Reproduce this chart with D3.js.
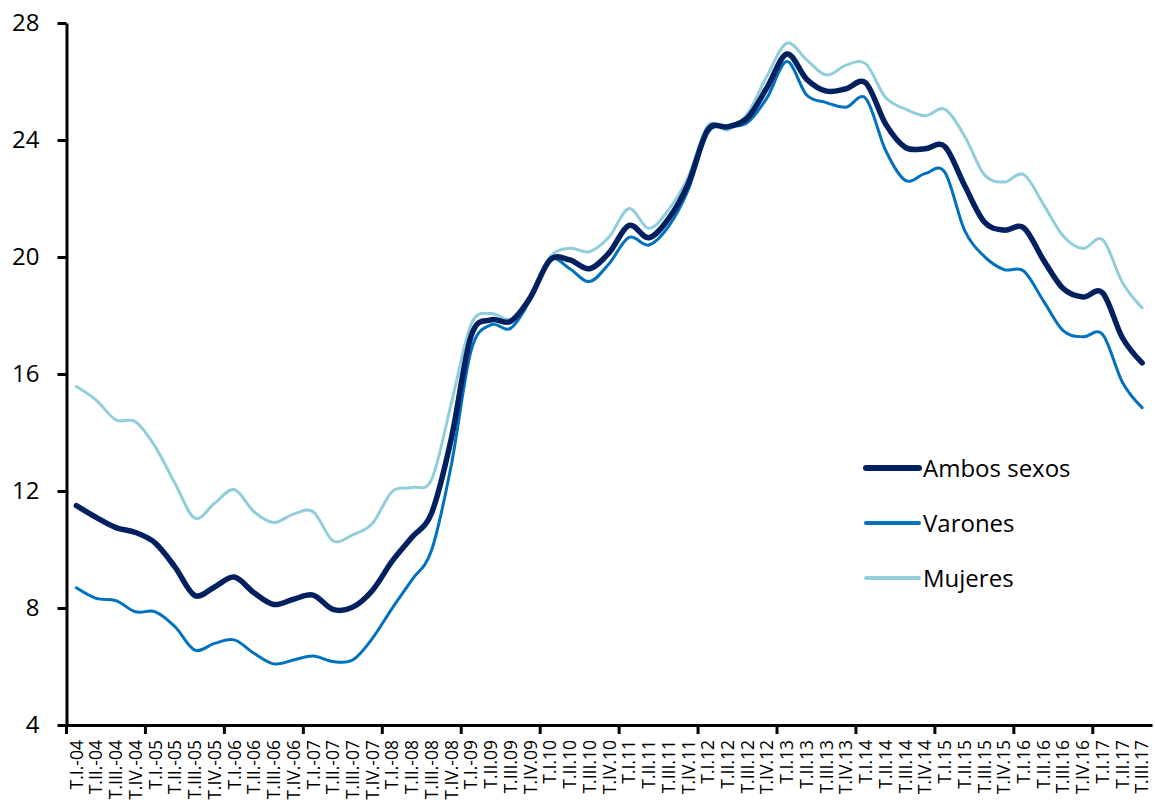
<!DOCTYPE html>
<html>
<head>
<meta charset="utf-8">
<script src="https://cdn.jsdelivr.net/npm/d3@7"></script>
<style>
  body { margin: 0; background: #fff; }
  svg { display: block; }
  text { font-family: "Open Sans", sans-serif; fill: #000; }
</style>
</head>
<body>
<svg id="chart" width="1155" height="803"></svg>
<script>
// Quarterly unemployment rate (%), T.I 2004 – T.III 2017
const categories = [
  "T.I.-04","T.II.-04","T.III.-04","T.IV.-04",
  "T.I.-05","T.II.-05","T.III.-05","T.IV.-05",
  "T.I.-06","T.II.-06","T.III.-06","T.IV.-06",
  "T.I.-07","T.II.-07","T.III.-07","T.IV.-07",
  "T.I.-08","T.II.-08","T.III.-08","T.IV.-08",
  "T.I.-09","T.II.09","T.III.09","T.IV.09",
  "T.I.10","T.II.10","T.III.10","T.IV.10",
  "T.I.11","T.II.11","T.III.11","T.IV.11",
  "T.I.12","T.II.12","T.III.12","T.IV.12",
  "T.I.13","T.II.13","T.III.13","T.IV.13",
  "T.I.14","T.II.14","T.III.14","T.IV.14",
  "T.I.15","T.II.15","T.III.15","T.IV.15",
  "T.I.16","T.II.16","T.III.16","T.IV.16",
  "T.I.17","T.II.17","T.III.17"
];

const ambosSexos = [
  11.5, 11.1, 10.75, 10.58,
  10.22, 9.4, 8.43, 8.72,
  9.06, 8.52, 8.12, 8.3,
  8.44, 7.95, 8.03, 8.6,
  9.6, 10.42, 11.25, 13.8,
  17.3, 17.85, 17.8, 18.62,
  19.9, 19.9, 19.6, 20.15,
  21.08, 20.66, 21.3, 22.5,
  24.35, 24.45, 24.75, 25.8,
  26.94, 26.08, 25.67, 25.75,
  25.95, 24.55, 23.75, 23.7,
  23.78, 22.45, 21.2, 20.92,
  21.0, 19.9, 18.92, 18.63,
  18.77, 17.24, 16.38
];

const varones = [
  8.69, 8.33, 8.25, 7.87,
  7.87, 7.36, 6.56, 6.79,
  6.91, 6.45, 6.09, 6.22,
  6.36, 6.17, 6.22, 6.96,
  7.99, 8.96, 9.98, 12.9,
  16.8, 17.68, 17.56, 18.53,
  19.9, 19.6, 19.16, 19.78,
  20.67, 20.41, 21.04, 22.29,
  24.25, 24.45, 24.6, 25.45,
  26.68, 25.54, 25.28, 25.12,
  25.42, 23.65, 22.62, 22.85,
  22.9, 20.92, 20.02, 19.57,
  19.52, 18.5, 17.48, 17.27,
  17.35, 15.72, 14.85
];

const mujeres = [
  15.57, 15.11, 14.43, 14.37,
  13.51, 12.26, 11.07, 11.58,
  12.05, 11.29, 10.92, 11.21,
  11.29, 10.3, 10.5, 10.89,
  11.98, 12.12, 12.4, 15.0,
  17.7, 18.07, 17.88, 18.64,
  20.0, 20.3, 20.18, 20.69,
  21.66, 20.98, 21.61, 22.74,
  24.5, 24.35, 24.9, 26.2,
  27.31, 26.74, 26.22, 26.56,
  26.6, 25.45, 25.06, 24.83,
  25.05, 24.14, 22.82, 22.56,
  22.82, 21.8, 20.72, 20.29,
  20.59, 19.13, 18.26
];

const yTicks = [4, 8, 12, 16, 20, 24, 28];
const seriesNames = ["Ambos sexos", "Varones", "Mujeres"];

const seriesStyle = {
  "Ambos sexos": { color: "#002060", width: 5.5 },
  "Varones":     { color: "#0070C0", width: 3 },
  "Mujeres":     { color: "#92CDDC", width: 3 }
};
const seriesValues = {
  "Ambos sexos": ambosSexos,
  "Varones": varones,
  "Mujeres": mujeres
};

const svg = d3.select("#chart");

const x = d3.scaleBand()
  .domain(categories)
  .range([66.5, 1152])
  .paddingInner(0)
  .paddingOuter(0);

const y = d3.scaleLinear()
  .domain([4, 28])
  .range([725, 23]);

// Data lines (smoothed)
const line = d3.line()
  .x(d => x(d.cat) + x.bandwidth() / 2)
  .y(d => y(d.v))
  .curve(d3.curveCatmullRom.alpha(0));

const drawOrder = ["Mujeres", "Varones", "Ambos sexos"];
svg.append("g")
  .selectAll("path")
  .data(drawOrder)
  .join("path")
    .attr("fill", "none")
    .attr("stroke", n => seriesStyle[n].color)
    .attr("stroke-width", n => seriesStyle[n].width)
    .attr("stroke-linejoin", "round")
    .attr("stroke-linecap", "round")
    .attr("d", n => line(seriesValues[n].map((v, i) => ({ cat: categories[i], v }))));

// Y axis
const yAxis = svg.append("g")
  .attr("transform", "translate(66.5,0)")
  .call(d3.axisLeft(y).tickValues(yTicks).tickSize(9).tickSizeOuter(0).tickPadding(18));
yAxis.select(".domain").attr("stroke", "#000").attr("stroke-width", 3);
yAxis.selectAll(".tick line").attr("stroke", "#000").attr("stroke-width", 3);
yAxis.selectAll(".tick text")
  .attr("font-size", 24)
  .attr("font-family", "Open Sans, sans-serif");

// X axis: labels centred on each quarter, rotated
const xAxis = svg.append("g")
  .attr("transform", "translate(0,725)")
  .call(d3.axisBottom(x).tickSize(0).tickSizeOuter(0));
xAxis.select(".domain").attr("stroke", "#000").attr("stroke-width", 3);
xAxis.selectAll(".tick text")
  .attr("font-size", 17.5)
  .attr("font-family", "Open Sans, sans-serif")
  .attr("transform", "rotate(-90)")
  .attr("x", -15)
  .attr("y", 0)
  .attr("dy", "0.36em")
  .style("text-anchor", "end");

// Year separators: tick marks every four quarters
const yearStarts = categories.filter((c, i) => i % 4 === 0);
xAxis.selectAll(".year-tick")
  .data(yearStarts)
  .join("line")
    .attr("class", "year-tick")
    .attr("x1", c => x(c))
    .attr("x2", c => x(c))
    .attr("y1", 0)
    .attr("y2", 9)
    .attr("stroke", "#000")
    .attr("stroke-width", 3);

// Legend
const legend = svg.append("g").attr("transform", "translate(866,468)");
const items = legend.selectAll("g")
  .data(seriesNames)
  .join("g")
    .attr("transform", (d, i) => `translate(0,${i * 55})`);
items.append("line")
  .attr("x1", 0).attr("x2", 53)
  .attr("y1", 0).attr("y2", 0)
  .attr("stroke", n => seriesStyle[n].color)
  .attr("stroke-width", n => n === "Ambos sexos" ? 6 : 4)
  .attr("stroke-linecap", "round");
items.append("text")
  .attr("x", 57)
  .attr("y", 8.6)
  .attr("font-size", 24)
  .text(n => n);
</script>
</body>
</html>
